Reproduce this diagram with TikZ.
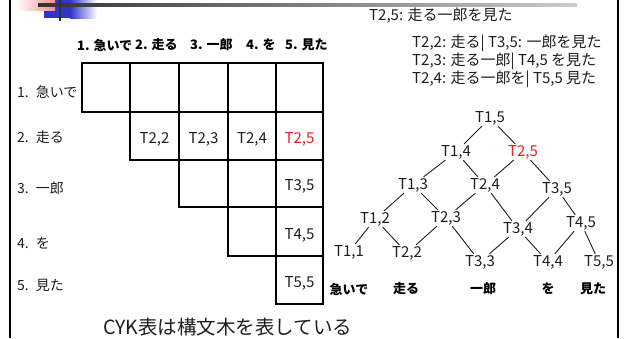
\documentclass[tikz,border=0pt]{standalone}
\usepackage{fontspec}
\setmainfont{Noto Sans CJK JP}
\definecolor{decoblue}{RGB}{50,50,200}
\definecolor{decopink}{RGB}{245,140,140}
\definecolor{txt}{RGB}{30,30,30}
\definecolor{redtxt}{RGB}{235,30,30}
\begin{document}
\begin{tikzpicture}[x=1pt,y=-1pt,
  rowlbl/.style={font=\fontsize{14}{16}\selectfont, text=txt, anchor=west, inner sep=0pt},
  hdr/.style={font=\fontsize{13}{15}\selectfont\bfseries, anchor=west, inner sep=0pt},
  gridline/.style={line width=1.8pt},
  cell/.style={font=\fontsize{15}{17}\selectfont, text=txt, inner sep=1pt},
  note/.style={font=\fontsize{15}{17}\selectfont, text=txt, anchor=west, inner sep=0pt},
  tn/.style={font=\fontsize{15}{17}\selectfont, text=txt, inner sep=1pt},
  tw/.style={font=\fontsize{13}{15}\selectfont\bfseries, inner sep=0pt},
  edge/.style={line width=0.9pt, txt},
  caption/.style={font=\fontsize{19.5}{22}\selectfont, text=txt, anchor=west, inner sep=0pt}]
\useasboundingbox (0,0) rectangle (627,338);
\fill[white] (0,0) rectangle (627,338);
% top decoration
\fill[decoblue] (44,0) rectangle (70,18);
\shade[left color=decoblue, right color=white] (70,0) rectangle (97,18);
\shade[left color=white, right color=decopink] (16,0) rectangle (55,10);
\shade[left color=black!80, right color=black!20] (38,3.8) rectangle (577,6.6);
\draw[line width=2pt, black!80] (60,0) -- (60,21);
% frame
\draw[line width=2pt] (10,0) -- (10,338);
\draw[line width=2pt] (618,0) -- (618,338);
% header
\node[hdr] (h1) at (77,45) {1.\hspace{0.3em}急いで};
\node[hdr] (h2) at (135,45) {2.\hspace{0.3em}走る};
\node[hdr] (h3) at (190,45) {3.\hspace{0.3em}一郎};
\node[hdr] (h4) at (246,45) {4.\hspace{0.3em}を};
\node[hdr] (h5) at (285,45) {5.\hspace{0.3em}見た};
% table
\foreach \r/\ya/\yb in {1/63/112, 2/112/160, 3/160/207, 4/207/256, 5/256/304}{
  \foreach \c/\xa/\xb in {1/82/130, 2/130/179, 3/179/228, 4/228/276, 5/276/323}{
    \ifnum\c<\r\relax\else\draw[gridline] (\xa,\ya) rectangle (\xb,\yb);\fi
  }
}
\draw[line width=2.6pt] (276,63) -- (276,304);
% row labels
\node[rowlbl] (r1) at (17,92) {1.\hspace{0.5em}急いで};
\node[rowlbl] (r2) at (17,137) {2.\hspace{0.5em}走る};
\node[rowlbl] (r3) at (17,188) {3.\hspace{0.5em}一郎};
\node[rowlbl] (r4) at (17,243) {4.\hspace{0.5em}を};
\node[rowlbl] (r5) at (17,285) {5.\hspace{0.5em}見た};
% cell labels
\node[cell] (c22) at (154.5,139) {T2,2};
\node[cell] (c23) at (203.5,139) {T2,3};
\node[cell] (c24) at (252,139) {T2,4};
\node[cell, text=redtxt] (c25) at (299.5,139) {T2,5};
\node[cell] (c35) at (299.5,186) {T3,5};
\node[cell] (c45) at (299.5,235) {T4,5};
\node[cell] (c55) at (299.5,283) {T5,5};
% notes
\node[note] (n1) at (369,16) {T2,5: 走る一郎を見た};
\node[note] (n2) at (412,43) {T2,2: 走る| T3,5: 一郎を見た};
\node[note] (n3) at (412,61) {T2,3: 走る一郎| T4,5 を見た};
\node[note] (n4) at (412,79) {T2,4: 走る一郎を| T5,5 見た};
% tree
\node[tn] (t15) at (490,118) {T1,5};
\node[tn] (t14) at (456,152) {T1,4};
\node[tn, text=redtxt] (t25) at (523,152) {T2,5};
\node[tn] (t13) at (413,185) {T1,3};
\node[tn] (t24) at (485,185) {T2,4};
\node[tn] (t35) at (557,189) {T3,5};
\node[tn] (t12) at (375,219) {T1,2};
\node[tn] (t23) at (446,218) {T2,3};
\node[tn] (t34) at (518,229) {T3,4};
\node[tn] (t45) at (581,223) {T4,5};
\node[tn] (t11) at (349,252) {T1,1};
\node[tn] (t22) at (407,253) {T2,2};
\node[tn] (t33) at (480,262) {T3,3};
\node[tn] (t44) at (548,262) {T4,4};
\node[tn] (t55) at (599,262) {T5,5};
\foreach \a/\b in {t15/t14, t15/t25, t14/t13, t14/t24, t25/t24, t25/t35,
  t13/t12, t13/t23, t24/t23, t24/t34, t35/t34, t35/t45,
  t12/t11, t12/t22, t23/t22, t23/t33, t34/t33, t34/t44, t45/t44, t45/t55}
  \draw[edge] (\a) -- (\b);
% words under tree
\node[tw] (w1) at (349,289) {急いで};
\node[tw] (w2) at (406,289) {走る};
\node[tw] (w3) at (483,289) {一郎};
\node[tw] (w4) at (548,289) {を};
\node[tw] (w5) at (593,289) {見た};
% caption
\node[caption] (cap) at (103,327) {CYK表は構文木を表している};
\end{tikzpicture}
\end{document}
